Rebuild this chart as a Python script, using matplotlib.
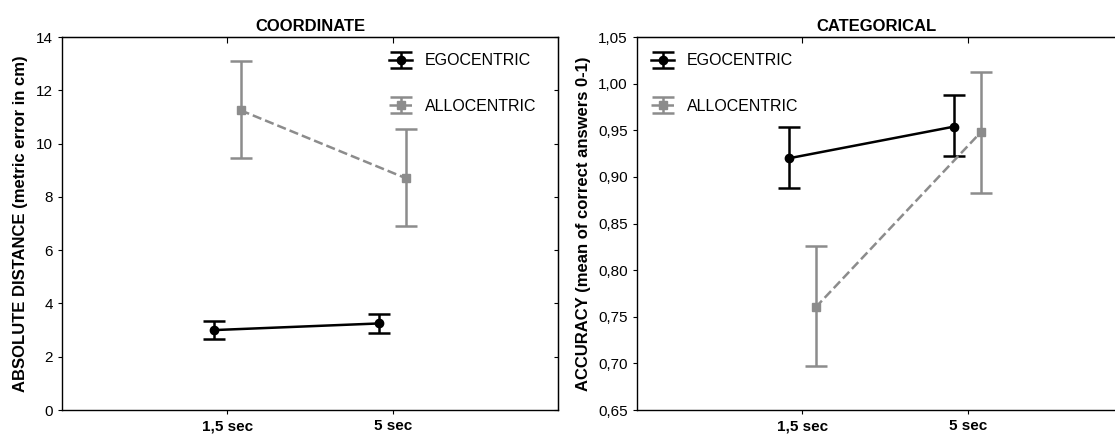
import matplotlib
matplotlib.use('Agg')
import matplotlib.pyplot as plt
from matplotlib.ticker import FuncFormatter

plt.rcParams['font.family'] = ['Liberation Sans', 'DejaVu Sans']

# ---- datos ----
delays = ['1,5 sec', '5 sec']

coord_ego = [3.0, 3.25]
coord_ego_lo = [2.65, 2.90]
coord_ego_hi = [3.35, 3.62]
coord_allo = [11.25, 8.70]
coord_allo_lo = [9.45, 6.90]
coord_allo_hi = [13.10, 10.55]

cat_ego = [0.920, 0.954]
cat_ego_lo = [0.888, 0.922]
cat_ego_hi = [0.953, 0.988]
cat_allo = [0.760, 0.948]
cat_allo_lo = [0.697, 0.883]
cat_allo_hi = [0.826, 1.012]

EGO = 'black'
ALLO = '#8c8c8c'


def panel(ax, ego, ego_lo, ego_hi, allo, allo_lo, allo_hi, right_ticks=True):
    pos = [1, 2]
    xe = [p - 0.08 for p in pos]
    xa = [p + 0.08 for p in pos]
    err_e = [[m - l for m, l in zip(ego, ego_lo)], [h - m for m, h in zip(ego, ego_hi)]]
    err_a = [[m - l for m, l in zip(allo, allo_lo)], [h - m for m, h in zip(allo, allo_hi)]]
    ax.errorbar(xe, ego, yerr=err_e, color=EGO, marker='o', ms=6, lw=1.8,
                capsize=8, capthick=1.8, elinewidth=1.8, label='EGOCENTRIC')
    ax.errorbar(xa, allo, yerr=err_a, color=ALLO, marker='s', ms=6, lw=1.8,
                ls='--', capsize=8, capthick=1.8, elinewidth=1.8, label='ALLOCENTRIC')
    ax.set_xticks(pos)
    ax.set_xticklabels(delays, fontsize=12, fontweight='bold')
    for s in ax.spines.values():
        s.set_linewidth(1.0)
    ax.tick_params(axis='both', direction='out', length=3, labelsize=11)
    top = ax.secondary_xaxis('top')
    top.set_xticks(pos)
    top.tick_params(direction='in', length=4, labeltop=False)
    if right_ticks:
        right = ax.secondary_yaxis('right')
        right.set_yticks(ax.get_yticks())
        right.tick_params(direction='in', length=3, labelright=False)


fig = plt.figure(figsize=(11.15, 4.36), dpi=100)

# ---- COORDINATE ----
ax1 = fig.add_axes([0.0556, 0.0596, 0.4448, 0.8555])
ax1.set_xlim(0, 3)
ax1.set_ylim(0, 14)
ax1.set_yticks(range(0, 15, 2))
panel(ax1, coord_ego, coord_ego_lo, coord_ego_hi, coord_allo, coord_allo_lo, coord_allo_hi)
ax1.set_title('COORDINATE', fontsize=12, fontweight='bold', pad=4)
ax1.set_ylabel('ABSOLUTE DISTANCE (metric error in cm)', fontsize=12, fontweight='bold', labelpad=6)
ax1.legend(loc='upper right', frameon=False, fontsize=11.5, handlelength=1.4,
           labelspacing=1.9, borderaxespad=0.5, bbox_to_anchor=(0.985, 0.995))

# ---- CATEGORICAL ----
ax2 = fig.add_axes([0.5713, 0.0596, 0.4300, 0.8555])
ax2.set_xlim(0, 2.9)
ax2.set_ylim(0.65, 1.05)
ax2.set_yticks([0.65 + 0.05 * i for i in range(9)])
ax2.yaxis.set_major_formatter(FuncFormatter(lambda v, p: f'{v:.2f}'.replace('.', ',')))
panel(ax2, cat_ego, cat_ego_lo, cat_ego_hi, cat_allo, cat_allo_lo, cat_allo_hi, right_ticks=False)
ax2.spines['right'].set_visible(False)
ax2.set_title('CATEGORICAL', fontsize=12, fontweight='bold', pad=4)
ax2.set_ylabel('ACCURACY (mean of correct answers 0-1)', fontsize=12, fontweight='bold', labelpad=5)
ax2.legend(loc='upper left', frameon=False, fontsize=11.5, handlelength=1.4,
           labelspacing=1.9, borderaxespad=0.5, bbox_to_anchor=(0.0, 0.995))

fig.savefig('out.png', dpi=100)
